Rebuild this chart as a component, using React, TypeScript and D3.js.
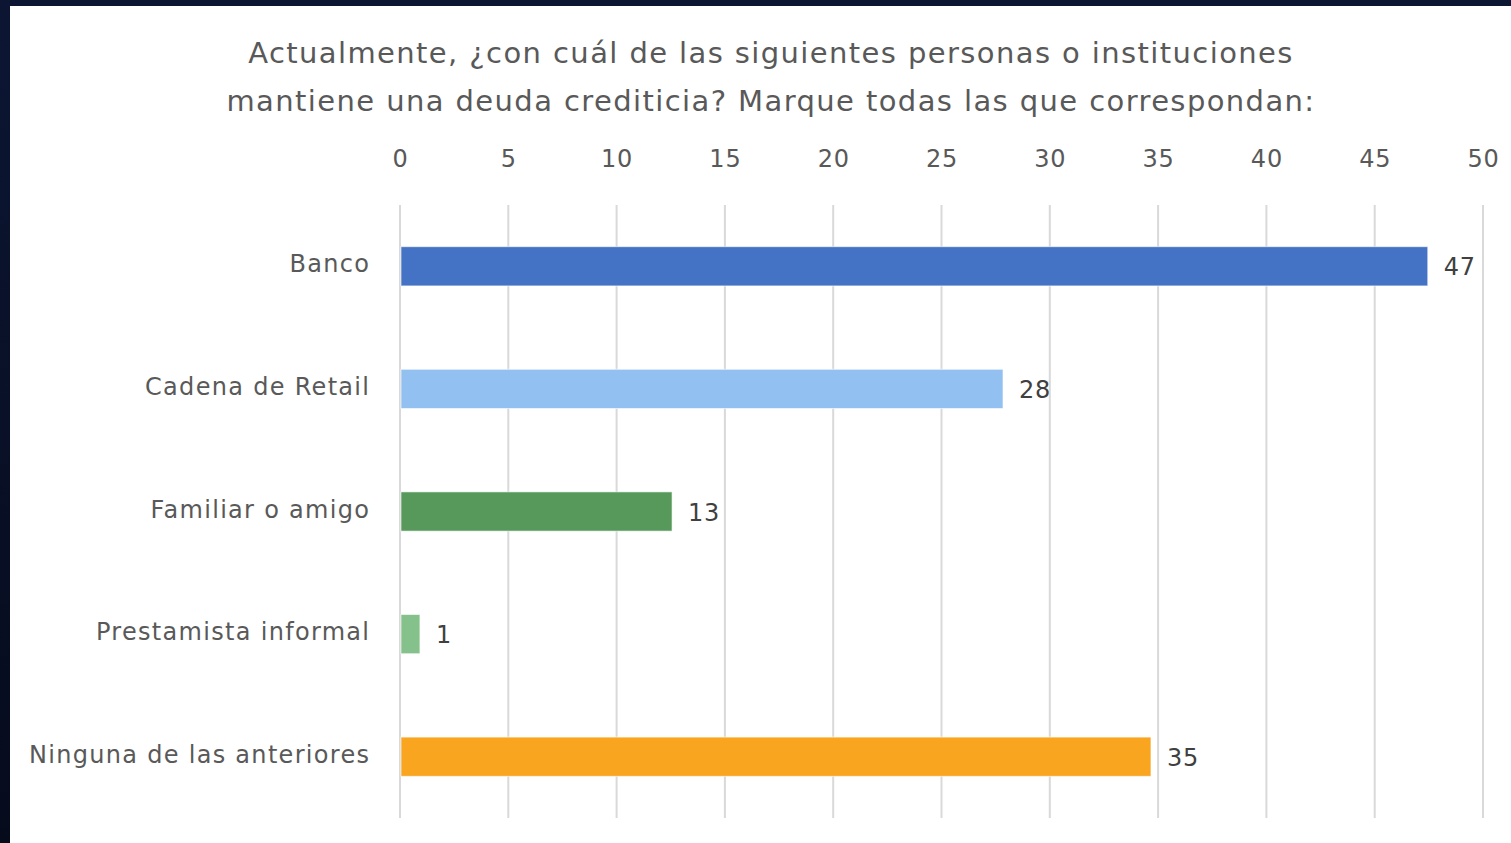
import React from "react";
import * as d3 from "d3";

const categories = ["Banco", "Cadena de Retail", "Familiar o amigo", "Prestamista informal", "Ninguna de las anteriores"];
const values = [47.45, 27.84, 12.56, 0.92, 34.67];
const barColors = ["#4472C4", "#92C1F1", "#56995B", "#85C18A", "#F9A51F"];
const tickValues = [0, 5, 10, 15, 20, 25, 30, 35, 40, 45, 50];
const titleLines = [
  "Actualmente, ¿con cuál de las siguientes personas o instituciones",
  "mantiene una deuda crediticia? Marque todas las que correspondan:",
];

const W = 1511;
const H = 843;
const FONT = "'DejaVu Sans', 'Open Sans', sans-serif";
const fmt = d3.format(".0f");

export default function App() {
  const x = d3.scaleLinear().domain([0, 50]).range([400, 1483]);
  const y = d3.scaleBand<string>().domain(categories).range([205, 818]).paddingInner(0.68).paddingOuter(0.34);

  return (
    <svg width={W} height={H} style={{ position: "fixed", left: 0, top: 0, display: "block" }}>
      <defs>
        <linearGradient id="bg" x1="0" y1="0" x2="0" y2="1">
          <stop offset="0" stopColor="#0c1633" />
          <stop offset="1" stopColor="#060b1c" />
        </linearGradient>
      </defs>
      <rect x={0} y={0} width={W} height={H} fill="url(#bg)" />
      <rect x={10} y={6} width={W - 10} height={H - 6} fill="#ffffff" />

      {titleLines.map((t, i) => (
        <text key={i} x={771} y={63 + i * 48} textAnchor="middle" fontFamily={FONT} fontSize={29} letterSpacing={1.4} fill="#595959">
          {t}
        </text>
      ))}

      {tickValues.map((v) => (
        <g key={v}>
          <line x1={x(v)} x2={x(v)} y1={205} y2={818} stroke="#d9d9d9" strokeWidth={2} />
          <text x={x(v) + 0.5} y={167} textAnchor="middle" fontFamily={FONT} fontSize={24} letterSpacing={0.8} fill="#595959">
            {v}
          </text>
        </g>
      ))}

      {categories.map((c, i) => {
        const y0 = y(c)!;
        const bw = y.bandwidth();
        return (
          <g key={c}>
            <rect
              x={x(0) + 1}
              y={y0}
              width={x(values[i]) - x(0) - 1}
              height={bw}
              fill={barColors[i]}
              stroke="#ffffff"
              strokeOpacity={0.6}
              strokeWidth={1}
            />
            <text x={370.3} y={y0 + bw / 2 - 2} textAnchor="end" dominantBaseline="central" fontFamily={FONT} fontSize={24} letterSpacing={1.3} fill="#595959">
              {c}
            </text>
            <text x={x(values[i]) + 16} y={y0 + bw / 2 + 1} dominantBaseline="central" fontFamily={FONT} fontSize={24} letterSpacing={0.8} fill="#404040">
              {fmt(values[i])}
            </text>
          </g>
        );
      })}
    </svg>
  );
}
